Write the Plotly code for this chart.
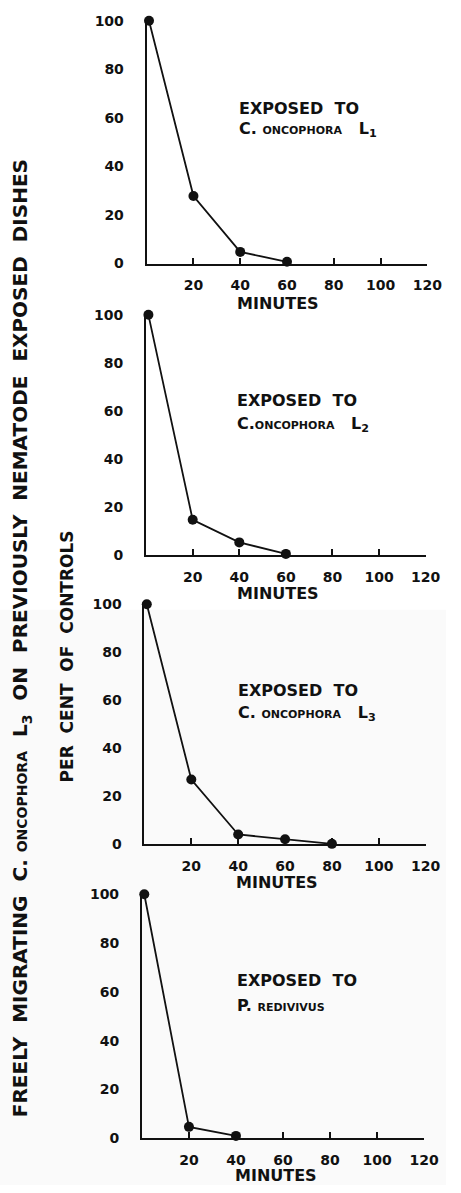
import plotly.graph_objects as go

W, H = 461, 1193

# Per cent of controls over time, one series per exposure
minutes_l1 = [1, 20, 40, 60]
pct_l1 = [100, 27.8, 4.8, 0.7]

minutes_l2 = [1, 20, 40, 60]
pct_l2 = [100, 14.6, 5.2, 0.4]

minutes_l3 = [1, 20, 40, 60, 80]
pct_l3 = [100, 27.0, 4.1, 2.1, 0.2]

minutes_pr = [1, 20, 40]
pct_pr = [100, 4.7, 1.0]

x_ticks = [20, 40, 60, 80, 100, 120]
y_ticks = [0, 20, 40, 60, 80, 100]

series = [
    (minutes_l1, pct_l1, "C. oncophora   L<sub>1</sub>"),
    (minutes_l2, pct_l2, "C.oncophora   L<sub>2</sub>"),
    (minutes_l3, pct_l3, "C. oncophora   L<sub>3</sub>"),
    (minutes_pr, pct_pr, "P. redivivus"),
]

# panel placement in pixels: (x at 0, x at 120, y at 0, y at 100)
frames = [
    (151.6, 441.7, 259.0, 13.0),
    (151.0, 440.0, 554.3, 311.0),
    (149.3, 440.0, 847.7, 604.3),
    (146.7, 438.3, 1145.7, 898.3),
]
# label anchors in pixels: (text left, "EXPOSED TO" y, species y, MINUTES x, MINUTES y)
labels = [
    (245.0, 101.7, 123.0, 287.0, 299.3),
    (243.0, 398.0, 421.7, 287.0, 593.3),
    (244.0, 691.7, 715.0, 286.7, 886.0),
    (242.7, 986.0, 1011.0, 285.0, 1183.3),
]

FONT = "DejaVu Sans"
INK = "#111111"

fig = go.Figure()
annotations = []

for i, ((xs, ys, species), (x0, x1, y0, y1), (tx, ty1, ty2, mx, my)) in enumerate(
    zip(series, frames, labels)
):
    n = "" if i == 0 else str(i + 1)
    fig.add_trace(
        go.Scatter(
            x=xs, y=ys, mode="lines+markers",
            line=dict(color=INK, width=1.8),
            marker=dict(color=INK, size=10),
            cliponaxis=False, showlegend=False,
            xaxis="x" + n, yaxis="y" + n,
        )
    )
    fig.layout["xaxis" + n] = dict(
        domain=[x0 / W, x1 / W], range=[0, 120], anchor="y" + n,
        tickvals=x_ticks, ticks="inside", ticklen=6, tickwidth=2, tickcolor=INK,
        showline=True, linecolor=INK, linewidth=2, showgrid=False, zeroline=False,
        tickfont=dict(family=FONT, size=14, color=INK, weight="bold"),
        ticklabelstandoff=8, fixedrange=True,
    )
    fig.layout["yaxis" + n] = dict(
        domain=[1 - y0 / H, 1 - y1 / H], range=[0, 100], anchor="x" + n,
        tickvals=y_ticks, ticks="", showline=True, linecolor=INK, linewidth=2,
        showgrid=False, zeroline=False,
        tickfont=dict(family=FONT, size=14, color=INK, weight="bold"),
        ticklabelstandoff=18, fixedrange=True,
    )
    annotations += [
        dict(text="EXPOSED  TO", x=tx / W, y=1 - ty1 / H, xref="paper", yref="paper",
             xanchor="left", yanchor="middle", showarrow=False,
             font=dict(family=FONT, size=16, color=INK, weight="bold")),
        dict(text=species, x=tx / W, y=1 - ty2 / H, xref="paper", yref="paper",
             xanchor="left", yanchor="middle", showarrow=False,
             font=dict(family=FONT, size=16, color=INK, weight="bold", variant="small-caps")),
        dict(text="MINUTES", x=mx / W, y=1 - my / H, xref="paper", yref="paper",
             xanchor="center", yanchor="middle", showarrow=False,
             font=dict(family=FONT, size=16, color=INK, weight="bold")),
    ]

annotations += [
    dict(text="FREELY  MIGRATING  C. oncophora  L<sub>3</sub>  ON  PREVIOUSLY  NEMATODE  EXPOSED  DISHES",
         x=22 / W, y=1 - 638.5 / H, xref="paper", yref="paper", textangle=-90,
         xanchor="center", yanchor="middle", showarrow=False,
         font=dict(family=FONT, size=20, color=INK, weight="bold", variant="small-caps")),
    dict(text="PER  CENT  OF  CONTROLS",
         x=69 / W, y=1 - 657.5 / H, xref="paper", yref="paper", textangle=-90,
         xanchor="center", yanchor="middle", showarrow=False,
         font=dict(family=FONT, size=17, color=INK, weight="bold")),
]

fig.update_layout(
    width=W, height=H, margin=dict(l=0, r=0, t=0, b=0),
    paper_bgcolor="white", plot_bgcolor="rgba(0,0,0,0)",
    annotations=annotations,
    shapes=[dict(type="rect", xref="paper", yref="paper", x0=0, x1=1,
                 y0=0, y1=1 - 610 / H, fillcolor="#fafafa", line_width=0,
                 layer="below")],
)

fig.write_html("out.html", config={"displayModeBar": False})
